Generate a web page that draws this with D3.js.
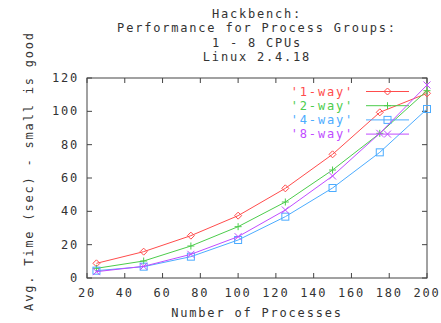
<!DOCTYPE html>
<html>
<head>
<meta charset="utf-8">
<script src="https://cdn.jsdelivr.net/npm/d3@7"></script>
<style>
body { margin: 0; background: #fff; }
text { font-family: "DejaVu Sans Mono", monospace; font-size: 12px; letter-spacing: 1.8px; fill: #333; }
</style>
</head>
<body>
<script>
var procs = [25, 50, 75, 100, 125, 150, 175, 200];
var oneWay = [8.8, 15.8, 25.4, 37.4, 53.8, 74.2, 99.4, 110.8];
var twoWay = [5.8, 10.2, 19.2, 30.8, 45.6, 64.8, 86.8, 112.4];
var fourWay = [4.4, 6.8, 12.8, 22.8, 36.8, 54.0, 75.4, 101.4];
var eightWay = [3.8, 7.0, 14.2, 24.8, 40.8, 61.2, 86.8, 115.8];
var seriesNames = ["'1-way'", "'2-way'", "'4-way'", "'8-way'"];
var xTicks = [20, 40, 60, 80, 100, 120, 140, 160, 180, 200];
var yTicks = [0, 20, 40, 60, 80, 100, 120];
var titleLines = ["Hackbench:", "Performance for Process Groups:", "1 - 8 CPUs", "Linux 2.4.18"];

var colors = ["#ff4c4c", "#4ccc4c", "#4cacff", "#c04cff"];
var markers = ["diamond", "plus", "square", "cross"];
var allSeries = [oneWay, twoWay, fourWay, eightWay];

var W = 441, H = 323;
var svg = d3.select("body").append("svg").attr("width", W).attr("height", H);

var x = d3.scaleLinear().domain([20, 200]).range([87, 427]);
var y = d3.scaleLinear().domain([0, 120]).range([278, 78]);

// frame
svg.append("rect")
  .attr("x", x(20)).attr("y", y(120))
  .attr("width", x(200) - x(20)).attr("height", y(0) - y(120))
  .attr("fill", "none").attr("stroke", "#444").attr("stroke-width", 1);

// inward ticks, mirrored
var tk = 5;
xTicks.forEach(function(t) {
  svg.append("line").attr("x1", x(t)).attr("x2", x(t)).attr("y1", y(0)).attr("y2", y(0) - tk).attr("stroke", "#444");
  svg.append("line").attr("x1", x(t)).attr("x2", x(t)).attr("y1", y(120)).attr("y2", y(120) + tk).attr("stroke", "#444");
  svg.append("text").attr("x", x(t)).attr("y", 297).attr("text-anchor", "middle").text(t);
});
yTicks.forEach(function(t) {
  svg.append("line").attr("x1", x(20)).attr("x2", x(20) + tk).attr("y1", y(t)).attr("y2", y(t)).attr("stroke", "#444");
  svg.append("line").attr("x1", x(200)).attr("x2", x(200) - tk).attr("y1", y(t)).attr("y2", y(t)).attr("stroke", "#444");
  svg.append("text").attr("x", 79).attr("y", y(t) + 4).attr("text-anchor", "end").text(t);
});

// titles
titleLines.forEach(function(s, i) {
  svg.append("text").attr("x", 257).attr("y", 18 + i * 14.4).attr("text-anchor", "middle").text(s);
});
svg.append("text").attr("x", 257).attr("y", 317).attr("text-anchor", "middle").text("Number of Processes");
svg.append("text").attr("transform", "translate(33,171) rotate(-90)").attr("text-anchor", "middle")
  .text("Avg. Time (sec) - small is good");

function drawMarker(g, kind, cx, cy, col) {
  var s = 3.5;
  if (kind === "diamond") {
    g.append("path").attr("d", "M" + cx + "," + (cy - s) + "L" + (cx + s) + "," + cy + "L" + cx + "," + (cy + s) + "L" + (cx - s) + "," + cy + "Z")
      .attr("fill", "none").attr("stroke", col);
  } else if (kind === "plus") {
    g.append("path").attr("d", "M" + (cx - s) + "," + cy + "H" + (cx + s) + "M" + cx + "," + (cy - s) + "V" + (cy + s))
      .attr("stroke", col);
  } else if (kind === "square") {
    g.append("rect").attr("x", cx - s).attr("y", cy - s).attr("width", 2 * s).attr("height", 2 * s)
      .attr("fill", "none").attr("stroke", col);
  } else {
    g.append("path").attr("d", "M" + (cx - s) + "," + (cy - s) + "L" + (cx + s) + "," + (cy + s) + "M" + (cx + s) + "," + (cy - s) + "L" + (cx - s) + "," + (cy + s))
      .attr("stroke", col);
  }
}

var line = d3.line().x(function(d) { return x(d[0]); }).y(function(d) { return y(d[1]); });

allSeries.forEach(function(vals, si) {
  var pts = procs.map(function(p, i) { return [p, vals[i]]; });
  var g = svg.append("g");
  g.append("path").datum(pts).attr("d", line).attr("fill", "none").attr("stroke", colors[si]).attr("stroke-width", 1);
  pts.forEach(function(p) { drawMarker(g, markers[si], x(p[0]), y(p[1]), colors[si]); });

  // legend
  var ly = 91.5 + si * 14.2;
  svg.append("text").attr("x", 354).attr("y", ly + 4).attr("text-anchor", "end").style("fill", colors[si]).text(seriesNames[si]);
  svg.append("line").attr("x1", 366).attr("x2", 409).attr("y1", ly).attr("y2", ly).attr("stroke", colors[si]);
  drawMarker(svg, markers[si], 387.5, ly, colors[si]);
});
</script>
</body>
</html>
